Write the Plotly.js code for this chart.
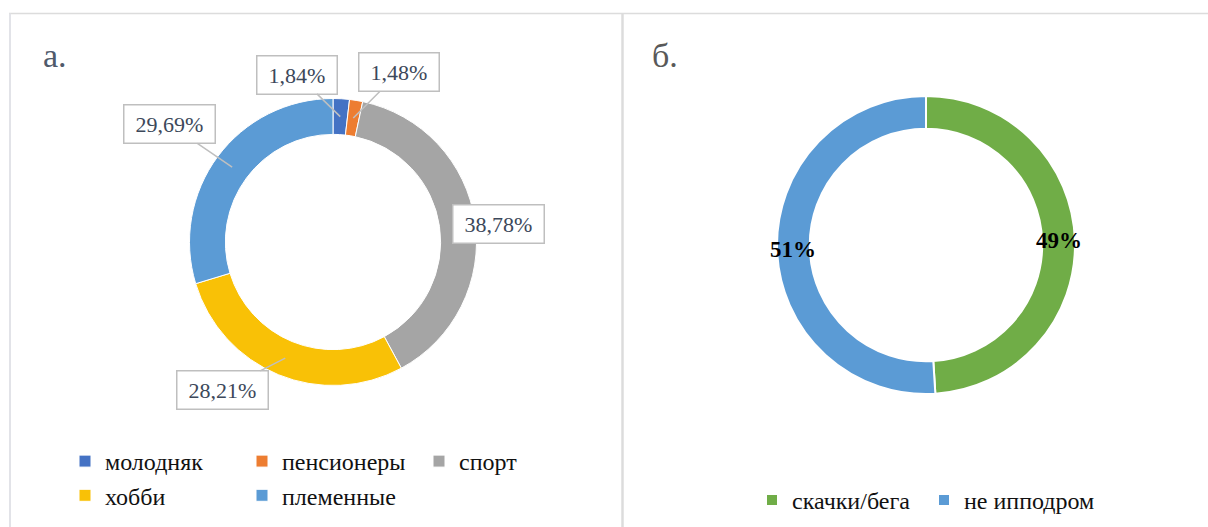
<!DOCTYPE html>
<html>
<head>
<meta charset="utf-8">
<script src="https://cdn.plot.ly/plotly-3.0.1.min.js"></script>
<style>
  html, body { margin: 0; padding: 0; background: #ffffff; }
  #chart { width: 1208px; height: 527px; }
</style>
</head>
<body>
<div id="chart"></div>
<script>
// ---- data ----
const categoriesA = ['молодняк', 'пенсионеры', 'спорт', 'хобби', 'племенные'];
const valuesA = [1.84, 1.48, 38.78, 28.21, 29.69];
const colorsA = ['#4472C4', '#ED7D31', '#A5A5A5', '#F9C106', '#5B9BD5'];

const categoriesB = ['скачки/бега', 'не ипподром'];
const valuesB = [49, 51];
const colorsB = ['#70AD47', '#5B9BD5'];

const panelTitles = ['а.', 'б.'];

// ---- layout geometry ----
const W = 1208, H = 527, ML = 150, MR = 100, MT = 0, MB = 0;
const GW = W - ML - MR, GH = H - MT - MB;
const fx = px => (px - ML) / GW;
const fy = py => 1 - (py - MT) / GH;

const FONT = 'Liberation Serif, DejaVu Serif, serif';

const pieA = { cx: 333, cy: 242, r: 143.5, hole: 0.75 };
const pieB = { cx: 926, cy: 245, r: 149, hole: 0.78 };

function domainOf(p) {
  return {
    x: [fx(p.cx - p.r), fx(p.cx + p.r)],
    y: [fy(p.cy + p.r), fy(p.cy - p.r)]
  };
}

// point in the middle of the ring, at the middle angle of slice i
function sliceMid(p, values, i) {
  const total = values.reduce((a, b) => a + b, 0);
  let start = 0;
  for (let k = 0; k < i; k++) start += values[k];
  const mid = (start + values[i] / 2) / total;
  const th = 2 * Math.PI * mid;
  const rm = p.r * (1 + p.hole) / 2;
  return { px: p.cx + rm * Math.sin(th), py: p.cy - rm * Math.cos(th) };
}

const canvas = document.createElement('canvas');
const ctx = canvas.getContext('2d');
function textWidth(t, size) {
  ctx.font = size + 'px "Liberation Serif", serif';
  return ctx.measureText(t).width;
}

// callout box offsets (box centre minus tip), pixels
const calloutOffsets = [[-43, -42], [46, -46], [41, 0], [-63, 32], [-63, -43]];
const calloutArrow = [true, true, false, true, true];

const annotations = [];
valuesA.forEach((v, i) => {
  const t = v.toFixed(2).replace('.', ',') + '%';
  const m = sliceMid(pieA, valuesA, i);
  const off = calloutOffsets[i];
  const a = {
    xref: 'paper', yref: 'paper',
    x: fx(m.px), y: fy(m.py),
    text: t,
    font: { family: FONT, size: 22, color: '#3c485a' },
    bgcolor: '#ffffff', bordercolor: '#bfbfbf', borderwidth: 1.5, borderpad: 3,
    width: Math.round(textWidth(t, 22) + 16), height: 31,
    align: 'center', valign: 'middle'
  };
  if (calloutArrow[i]) {
    Object.assign(a, { showarrow: true, ax: off[0], ay: off[1], arrowhead: 0,
      arrowwidth: 1.5, arrowcolor: '#bfbfbf', standoff: 0, startstandoff: 0 });
  } else {
    Object.assign(a, { showarrow: false, xanchor: 'center', yanchor: 'middle',
      xshift: off[0], yshift: -off[1] });
  }
  annotations.push(a);
});

valuesB.forEach((v, i) => {
  const m = sliceMid(pieB, valuesB, i);
  annotations.push({
    xref: 'paper', yref: 'paper', x: fx(m.px), y: fy(m.py),
    text: '<b>' + Math.round(v) + '%</b>', showarrow: false,
    font: { family: FONT, size: 23, color: '#000000' },
    xanchor: 'center', yanchor: 'middle'
  });
});

const titlePos = [[41, 55], [650, 55]];
panelTitles.forEach((t, i) => {
  annotations.push({
    xref: 'paper', yref: 'paper', x: fx(titlePos[i][0]), y: fy(titlePos[i][1]),
    text: t, showarrow: false, xanchor: 'left', yanchor: 'middle',
    font: { family: FONT, size: 34, color: i === 0 ? '#4f5a6b' : '#595959' }
  });
});

const border = '#dcdcdc';
const shapes = [
  { type: 'line', xref: 'paper', yref: 'paper', x0: fx(9), x1: fx(1210), y0: fy(13.5), y1: fy(13.5), line: { color: border, width: 1.5 } },
  { type: 'line', xref: 'paper', yref: 'paper', x0: fx(10), x1: fx(10), y0: fy(13.5), y1: fy(530), line: { color: '#e2e3e8', width: 2 } },
  { type: 'line', xref: 'paper', yref: 'paper', x0: fx(622.5), x1: fx(622.5), y0: fy(13.5), y1: fy(530), line: { color: border, width: 2.5 } }
];

const traces = [
  {
    type: 'pie', labels: categoriesA, values: valuesA, hole: pieA.hole,
    sort: false, direction: 'clockwise', rotation: 0,
    marker: { colors: colorsA, line: { color: '#ffffff', width: 1 } },
    textinfo: 'none', hoverinfo: 'skip', domain: domainOf(pieA), legend: 'legend'
  },
  {
    type: 'pie', labels: categoriesB, values: valuesB, hole: pieB.hole,
    sort: false, direction: 'clockwise', rotation: 0,
    marker: { colors: colorsB, line: { color: '#ffffff', width: 2 } },
    textinfo: 'none', hoverinfo: 'skip', domain: domainOf(pieB), legend: 'legend2'
  }
];

const layout = {
  width: W, height: H,
  margin: { l: ML, r: MR, t: MT, b: MB, autoexpand: false },
  paper_bgcolor: '#ffffff', plot_bgcolor: '#ffffff',
  font: { family: FONT, color: '#000000' },
  showlegend: true,
  legend: {
    orientation: 'h', x: fx(65), xanchor: 'left', y: fy(439), yanchor: 'top',
    entrywidth: 132, entrywidthmode: 'pixels',
    font: { family: FONT, size: 24, color: '#111111' }, bgcolor: 'rgba(0,0,0,0)'
  },
  legend2: {
    orientation: 'h', x: fx(752), xanchor: 'left', y: fy(478), yanchor: 'top',
    entrywidth: 127, entrywidthmode: 'pixels',
    font: { family: FONT, size: 24, color: '#111111' }, bgcolor: 'rgba(0,0,0,0)'
  },
  annotations: annotations,
  shapes: shapes
};

Plotly.newPlot('chart', traces, layout, { displayModeBar: false, staticPlot: true });
</script>
</body>
</html>
